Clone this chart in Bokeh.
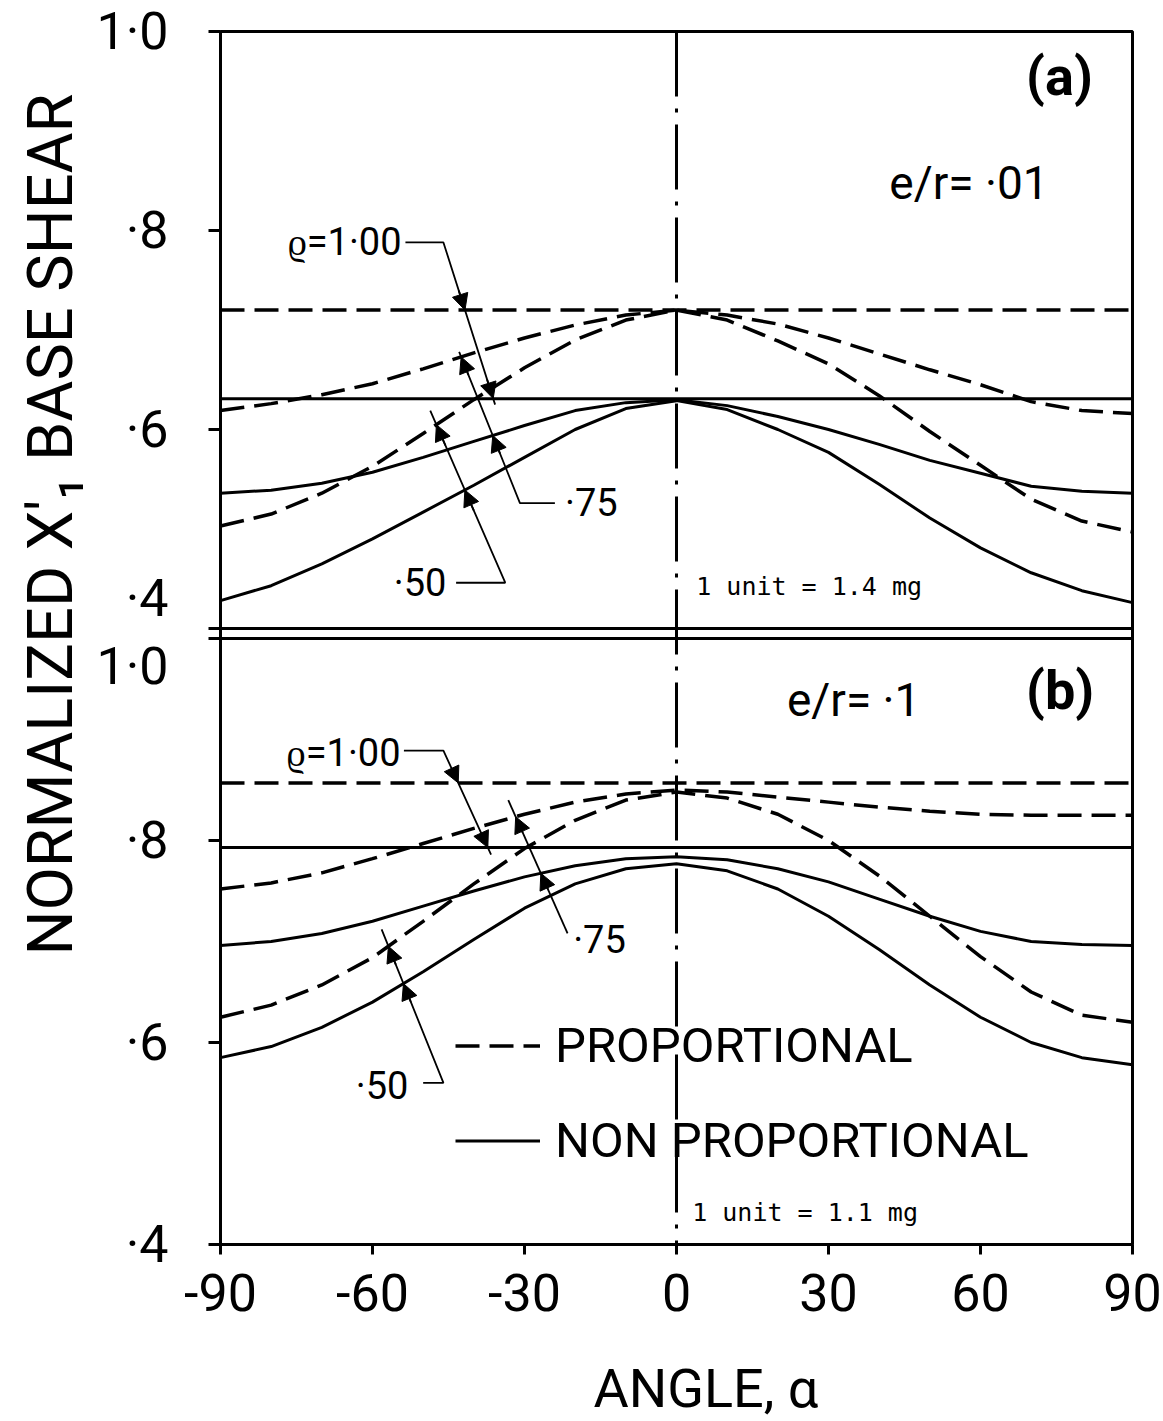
import numpy as np
from bokeh.plotting import figure
from bokeh.models import (Range1d, FixedTicker, Span, Label, Arrow, NormalHead,
                          Legend, LegendItem, Title)
from bokeh.embed import file_html
from bokeh.resources import INLINE

# ---------------- data ----------------
angles = [-90, -80, -70, -60, -50, -40, -30, -20, -10, 0,
          10, 20, 30, 40, 50, 60, 70, 80, 90]
angle_ends = [-90, 90]

# panel (a)  e/r = .01
a_prop_100 = [0.720, 0.720]
a_nonp_100 = [0.631, 0.631]
a_prop_075 = [0.619, 0.626, 0.635, 0.646, 0.661, 0.677, 0.692, 0.705, 0.715, 0.720,
              0.715, 0.706, 0.692, 0.676, 0.660, 0.645, 0.628, 0.619, 0.616]
a_prop_050 = [0.503, 0.515, 0.536, 0.563, 0.596, 0.630, 0.662, 0.690, 0.710, 0.720,
              0.710, 0.689, 0.666, 0.634, 0.598, 0.564, 0.530, 0.508, 0.497]
a_nonp_075 = [0.536, 0.539, 0.546, 0.557, 0.572, 0.588, 0.604, 0.619, 0.627, 0.630,
              0.624, 0.613, 0.600, 0.585, 0.569, 0.556, 0.543, 0.538, 0.536]
a_nonp_050 = [0.428, 0.443, 0.465, 0.490, 0.517, 0.544, 0.572, 0.600, 0.621, 0.629,
              0.620, 0.600, 0.577, 0.545, 0.511, 0.481, 0.456, 0.438, 0.426]

# panel (b)  e/r = .1
b_prop_100 = [0.857, 0.857]
b_nonp_100 = [0.793, 0.793]
b_prop_075 = [0.752, 0.758, 0.768, 0.782, 0.797, 0.812, 0.826, 0.838, 0.846, 0.850,
              0.848, 0.843, 0.838, 0.833, 0.829, 0.826, 0.825, 0.825, 0.825]
b_prop_050 = [0.625, 0.637, 0.657, 0.684, 0.720, 0.757, 0.792, 0.820, 0.840, 0.848,
              0.842, 0.826, 0.800, 0.765, 0.725, 0.685, 0.650, 0.627, 0.620]
b_nonp_075 = [0.696, 0.700, 0.708, 0.720, 0.735, 0.750, 0.764, 0.775, 0.782, 0.784,
              0.781, 0.772, 0.759, 0.742, 0.725, 0.710, 0.700, 0.697, 0.696]
b_nonp_050 = [0.585, 0.596, 0.615, 0.640, 0.670, 0.702, 0.733, 0.757, 0.772, 0.777,
              0.770, 0.752, 0.725, 0.692, 0.657, 0.625, 0.600, 0.585, 0.578]

y_ticks = [0.4, 0.6, 0.8, 1.0]
y_tick_labels = ["·4", "·6", "·8", "1·0"]
x_ticks = [-90, -60, -30, 0, 30, 60, 90]
x_tick_labels = ["-90", "-60", "-30", "0", "30", "60", "90"]

FONT = "Roboto"
MONO = "DejaVu Sans Mono"
DASH = "24 10"
DASHDOT = "65 12 4 12"

# ---------------- geometry (pixels) ----------------
W, H = 1163, 1421
B_LEFT, B_RIGHT, B_TOP, B_BOTTOM = 220, 31, 31, 177
FRAME_H = H - B_TOP - B_BOTTOM          # 1213
TOP_PANEL_PX = 597                      # panel (a) height
BOT_PANEL_PX = 606                      # panel (b) height

# main range = panel (b); extra range "top" = panel (a)
MAIN_START = 0.4
MAIN_END = 0.4 + FRAME_H * 0.6 / BOT_PANEL_PX
TOP_END = 1.0
TOP_START = 1.0 - FRAME_H * 0.6 / TOP_PANEL_PX


def top_to_main(v):
    frac = (v - TOP_START) / (TOP_END - TOP_START)
    return min(MAIN_START + frac * (MAIN_END - MAIN_START), MAIN_END - 1e-9)


p = figure(width=W, height=H, x_range=Range1d(-90, 90),
           y_range=Range1d(MAIN_START, MAIN_END), output_backend="svg",
           toolbar_location=None, min_border_left=B_LEFT, min_border_right=B_RIGHT,
           min_border_top=B_TOP, min_border_bottom=B_BOTTOM)
p.extra_y_ranges = {"top": Range1d(TOP_START, TOP_END)}
p.grid.visible = False
p.outline_line_color = "black"
p.outline_line_width = 3
p.outline_line_alpha = 1
p.background_fill_color = "white"
p.border_fill_color = "white"

# ---- y axis: tick marks as minor ticks, (possibly nudged) labels as major ticks
mark_pos = [v for v in y_ticks] + [top_to_main(v) for v in y_ticks]
label_pos = []
label_txt = {}
for v, s in zip(y_ticks, y_tick_labels):
    pos = v if v < 1.0 else v - 28 * 0.6 / BOT_PANEL_PX      # panel (b), nudge "1·0" down
    label_pos.append(pos)
    label_txt[pos] = s
    vt = v if v > 0.4 else v + 30 * 0.6 / TOP_PANEL_PX       # panel (a), nudge "·4" up
    pos = top_to_main(vt)
    label_pos.append(pos)
    label_txt[pos] = s

ya = p.yaxis[0]
ya.ticker = FixedTicker(ticks=label_pos, minor_ticks=mark_pos)
ya.major_label_overrides = label_txt
ya.major_tick_out = 12
ya.major_tick_in = 0
ya.major_tick_line_color = None
ya.minor_tick_out = 12
ya.minor_tick_in = 0
ya.minor_tick_line_width = 3
ya.minor_tick_line_color = "black"
ya.axis_line_width = 3
ya.major_label_text_font = FONT
ya.major_label_text_font_size = "52px"
ya.major_label_text_color = "black"
ya.major_label_standoff = 40

xa = p.xaxis[0]
xa.ticker = FixedTicker(ticks=x_ticks)
xa.major_label_overrides = dict(zip(x_ticks, x_tick_labels))
xa.major_tick_out = 10
xa.major_tick_in = 0
xa.major_tick_line_width = 3
xa.minor_tick_line_color = None
xa.axis_line_width = 3
xa.major_label_text_font = FONT
xa.major_label_text_font_size = "52px"
xa.major_label_text_color = "black"
xa.major_label_standoff = 19
# blank spacer label: pushes the axis title a little further down
xa.axis_label = " "
xa.axis_label_text_font_size = "20px"
xa.axis_label_standoff = 16

p.add_layout(Title(text="ANGLE, α", align="left", offset=373, standoff=0,
                   text_font=FONT, text_font_size="54px", text_font_style="normal",
                   text_color="black"), "below")
p.add_layout(Title(text="NORMALIZED X′₁ BASE SHEAR", align="left", offset=289,
                   standoff=14, text_font=FONT, text_font_size="63px",
                   text_font_style="normal", text_color="black"), "left")

# vertical dash-dot line at 0 and the double divider line
p.add_layout(Span(location=0, dimension="height", line_color="black",
                  line_width=3, line_dash=DASHDOT))
p.add_layout(Span(location=0.4, dimension="width", y_range_name="top",
                  line_color="black", line_width=3))
p.add_layout(Span(location=1.0, dimension="width", line_color="black", line_width=3))


def curves(rn, prop100, nonp100, prop75, prop50, nonp75, nonp50):
    kw = dict(y_range_name=rn, line_color="black")
    r_d = p.line(angle_ends, prop100, line_width=3.5, line_dash=DASH, **kw)
    r_s = p.line(angle_ends, nonp100, line_width=3, **kw)
    p.line(angles, prop75, line_width=3.5, line_dash=DASH, **kw)
    p.line(angles, prop50, line_width=3.5, line_dash=DASH, **kw)
    p.line(angles, nonp75, line_width=3, **kw)
    p.line(angles, nonp50, line_width=3, **kw)
    return r_d, r_s


def txt(rn, x, y, s, size, font=FONT, style="normal", align="left"):
    p.add_layout(Label(x=x, y=y, y_range_name=rn, text=s, text_font=font,
                       text_font_size=size, text_font_style=style, text_align=align,
                       text_baseline="middle", text_color="black"))


def crossing(p0, p1, xs, ys):
    t = np.linspace(0.0, 1.0, 4001)
    px = p0[0] + t * (p1[0] - p0[0])
    py = p0[1] + t * (p1[1] - p0[1])
    d = py - np.interp(px, xs, ys)
    idx = np.where(np.sign(d[:-1]) != np.sign(d[1:]))[0]
    i = idx[0] if len(idx) else int(np.argmin(np.abs(d)))
    return px[i], py[i]


def leader(rn, pts, targets):
    xs = [q[0] for q in pts]
    ys = [q[1] for q in pts]
    p.line(xs, ys, y_range_name=rn, line_color="black", line_width=1.8)
    a, b = pts[-2], pts[-1]
    dx, dy = (b[0] - a[0]), (b[1] - a[1])
    for (cx, cy) in targets:
        tx, ty = crossing(a, b, cx, cy)
        p.add_layout(Arrow(end=NormalHead(size=16, fill_color="black", line_color="black"),
                           x_start=tx - 0.12 * dx, y_start=ty - 0.12 * dy,
                           x_end=tx, y_end=ty, y_range_name=rn,
                           line_color="black", line_width=1.8))


# ---------------- panel (a) ----------------
T = "top"
curves(T, a_prop_100, a_nonp_100, a_prop_075, a_prop_050, a_nonp_075, a_nonp_050)
txt(T, 69.0, 0.955, "(a)", "54px", style="bold")
txt(T, 42.0, 0.848, "e/r= ·01", "46px")
txt(T, 3.9, 0.442, "1 unit = 1.4 mg", "25px", font=MONO)
txt(T, -76.8, 0.788, "ϱ=1·00", "38px")
txt(T, -22.0, 0.526, "·75", "38px")
txt(T, -55.8, 0.446, "·50", "38px")
leader(T, [(-53.5, 0.788), (-46.0, 0.788), (-35.8, 0.625)],
       [(angle_ends, a_prop_100), (angle_ends, a_nonp_100)])
leader(T, [(-24.0, 0.526), (-30.9, 0.526), (-42.9, 0.678)],
       [(angles, a_nonp_075), (angles, a_prop_075)])
leader(T, [(-43.5, 0.446), (-33.8, 0.446), (-48.6, 0.619)],
       [(angles, a_nonp_050), (angles, a_prop_050)])

# ---------------- panel (b) ----------------
M = "default"
r_dash, r_solid = curves(M, b_prop_100, b_nonp_100, b_prop_075, b_prop_050,
                         b_nonp_075, b_nonp_050)
txt(M, 69.0, 0.949, "(b)", "54px", style="bold")
txt(M, 21.8, 0.939, "e/r= ·1", "46px")
txt(M, 3.1, 0.432, "1 unit = 1.1 mg", "25px", font=MONO)
txt(M, -77.0, 0.887, "ϱ=1·00", "38px")
txt(M, -20.4, 0.701, "·75", "38px")
txt(M, -63.3, 0.557, "·50", "38px")
leader(M, [(-53.8, 0.889), (-46.0, 0.889), (-36.6, 0.786)],
       [(angle_ends, b_prop_100), (angle_ends, b_nonp_100)])
leader(M, [(-21.5, 0.708), (-33.2, 0.840)],
       [(angles, b_nonp_075), (angles, b_prop_075)])
leader(M, [(-50.0, 0.560), (-46.0, 0.560), (-58.2, 0.712)],
       [(angles, b_nonp_050), (angles, b_prop_050)])

legend = Legend(items=[LegendItem(label="PROPORTIONAL", renderers=[r_dash]),
                       LegendItem(label="NON PROPORTIONAL", renderers=[r_solid])],
                location=(235, 75), orientation="vertical", glyph_width=85,
                glyph_height=57, label_height=57, label_text_font=FONT,
                label_text_font_size="49px", label_text_color="black",
                label_standoff=15, spacing=38, padding=0, margin=0,
                border_line_color=None, background_fill_alpha=0)
p.add_layout(legend)

open("out.html", "w").write(file_html(p, INLINE))
